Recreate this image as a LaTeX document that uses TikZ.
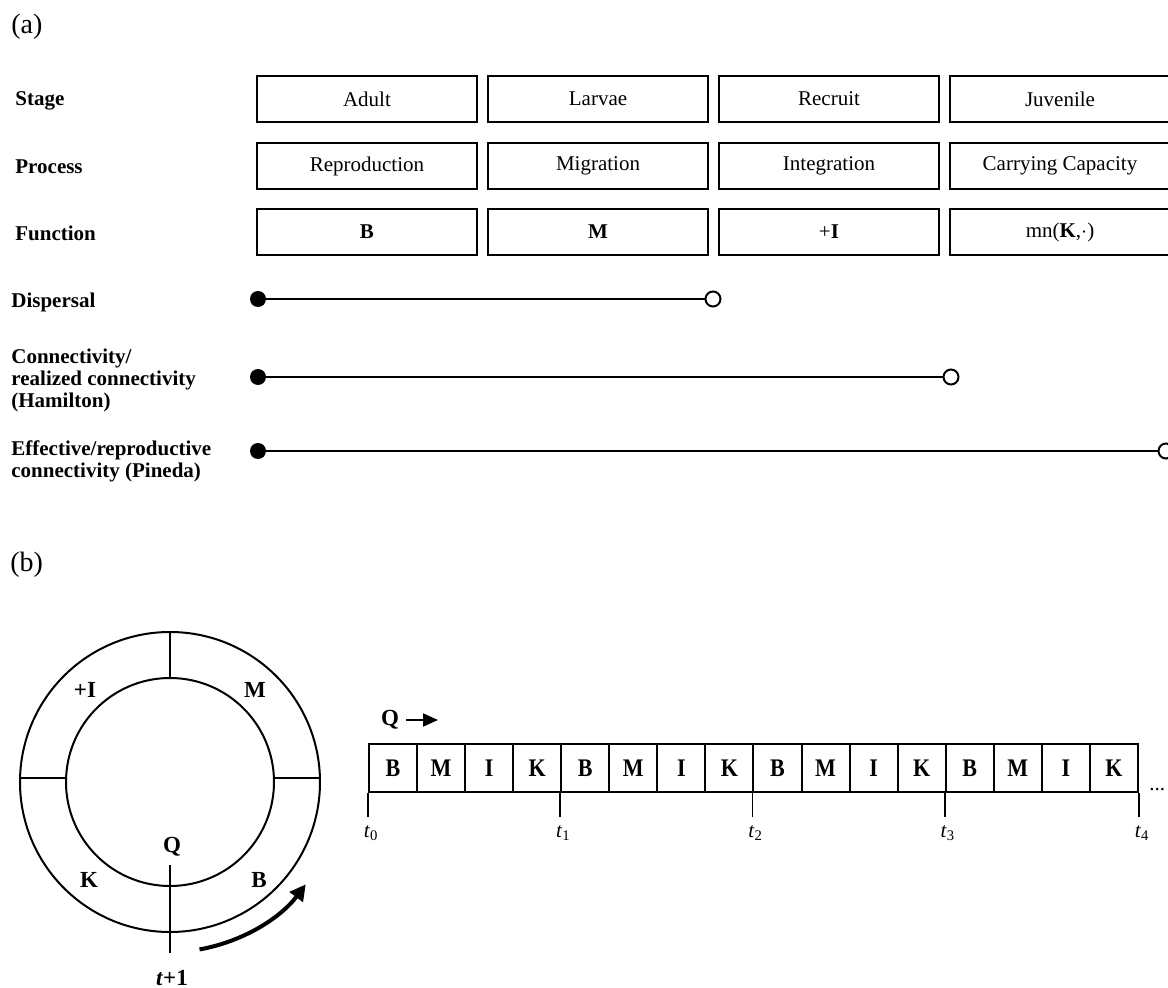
\documentclass[tikz,border=0pt]{standalone}
\usepackage{fontspec}
\setmainfont{Liberation Serif}
\usepackage{graphicx}
\usetikzlibrary{arrows.meta}

\begin{document}
\begin{tikzpicture}[x=0.5pt,y=-0.5pt,
        stagebox/.style={draw,line width=1pt,minimum width=110pt,minimum height=23pt,inner sep=0pt,font=\fontsize{10.5}{12}\selectfont},
        rowlabel/.style={anchor=west,align=left,inner sep=0pt,font=\fontsize{10.5}{11}\selectfont\bfseries},
        startdot/.style={circle,fill,inner sep=0pt,minimum size=8pt},
        enddot/.style={circle,draw,fill=white,line width=1pt,inner sep=0pt,minimum size=7.5pt},
        span/.style={line width=1.2pt},
        cell/.style={draw,line width=1pt,minimum width=24.03pt,minimum height=24pt,inner sep=0pt,font=\fontsize{11}{11}\selectfont\bfseries},
        ringlabel/.style={font=\fontsize{11.5}{12}\selectfont\bfseries},
        tlabel/.style={font=\fontsize{10.5}{12}\selectfont}]
        \useasboundingbox (0,0) rectangle (1168,988);

        % (a) stages, processes and functions
        \node[anchor=west,inner sep=0pt,font=\fontsize{14}{14}\selectfont] (parta) at (11,27) {(a)};
        \node[rowlabel] (stagelbl) at (15,101) {Stage};
        \node[rowlabel] (proclbl) at (15,167) {Process};
        \node[rowlabel] (funclbl) at (15,233) {Function};

        \node[stagebox] (adult) at (367,99) {Adult};
        \node[stagebox] (larvae) at (598,99) {Larvae};
        \node[stagebox] (recruit) at (829,99) {Recruit};
        \node[stagebox] (juvenile) at (1060,99) {Juvenile};

        \node[stagebox] (repro) at (367,166) {Reproduction};
        \node[stagebox] (migr) at (598,166) {Migration};
        \node[stagebox] (integ) at (829,166) {Integration};
        \node[stagebox] (carry) at (1060,166) {Carrying Capacity};

        \node[stagebox] (funcb) at (367,232) {\textbf{B}};
        \node[stagebox] (funcm) at (598,232) {\textbf{M}};
        \node[stagebox] (funci) at (829,232) {+\textbf{I}};
        \node[stagebox] (funck) at (1060,232) {mn(\textbf{K},$\cdot$)};

        % spans
        \node[rowlabel] (displbl) at (11,302) {Dispersal};
        \node[rowlabel] (connlbl) at (11,380) {Connectivity/\\realized connectivity\\(Hamilton)};
        \node[rowlabel] (efflbl) at (11,461) {Effective/reproductive\\connectivity (Pineda)};

        \node[startdot] (disps) at (258,299) {};
        \node[enddot] (dispe) at (713,299) {};
        \draw[span] (disps) -- (dispe); % Dispersal
        \node[startdot] (conns) at (258,377) {};
        \node[enddot] (conne) at (951,377) {};
        \draw[span] (conns) -- (conne); % Hamilton
        \node[startdot] (effs) at (258,451) {};
        \node[enddot] (effe) at (1166,451) {};
        \draw[span] (effs) -- (effe); % Pineda

        % (b) life cycle ring
        \node[anchor=west,inner sep=0pt,font=\fontsize{14}{14}\selectfont] (partb) at (10,565) {(b)};
        \coordinate (ringc) at (170,782);
        \draw[line width=1pt] (ringc) circle[radius=150];
        \draw[line width=1pt] (ringc) circle[radius=104];
        \draw[line width=1pt] (170,632) -- (170,678); % top
        \draw[line width=1pt] (20,778) -- (66,778); % left
        \draw[line width=1pt] (274,778) -- (320,778); % right
        \draw[line width=1pt] (170,865) -- (170,953); % start / end
        \node[ringlabel] (ringi) at (85,690) {+I};
        \node[ringlabel] (ringm) at (255,690) {M};
        \node[ringlabel] (ringk) at (89,880) {K};
        \node[ringlabel] (ringb) at (259,880) {B};
        \node[ringlabel] (ringq) at (172,847) {Q};
        \node[ringlabel] (tnext) at (172,978) {\textit{t}+1};
        \draw[line width=2pt,-{Triangle[length=8pt,width=8pt]}] (ringc) ++(80:170) arc[start angle=80,end angle=37,radius=170];

        % (b) time line
        \node[ringlabel] (qstart) at (390,720) {Q};
        \coordinate (qend) at (438,720);
        \draw[line width=1pt,-{Triangle[length=7.5pt,width=6.5pt]}] (qstart.east) -- (qend);
        \foreach \lt/\dy [count=\i] in {B/0,M/0,I/0,K/3,B/0,M/0,I/0,K/3,B/0,M/0,I/0,K/3,B/0,M/0,I/0,K/3}
            \node[cell] (c\i) at ({393.03+48.06*(\i-1)},768) {\raisebox{-\dy pt}{\scalebox{1}[1.15]{\lt}}};
        \foreach \k/\c in {0/1,1/5,2/9,3/13}
            \draw[line width=0.8pt] (c\c.south west) -- ++(0,24) node[tlabel,anchor=north west,inner sep=0pt,xshift=-2.5pt,yshift=-4pt] {\textit{t}\textsubscript{\k}};
        \draw[line width=0.8pt] (c16.south east) -- ++(0,24) node[tlabel,anchor=north west,inner sep=0pt,xshift=-2.5pt,yshift=-4pt] {\textit{t}\textsubscript{4}};
        \node[anchor=base west,inner sep=0pt,font=\fontsize{10.5}{12}\selectfont] (more) at (1149,791) {...};
    \end{tikzpicture}
\end{document}
